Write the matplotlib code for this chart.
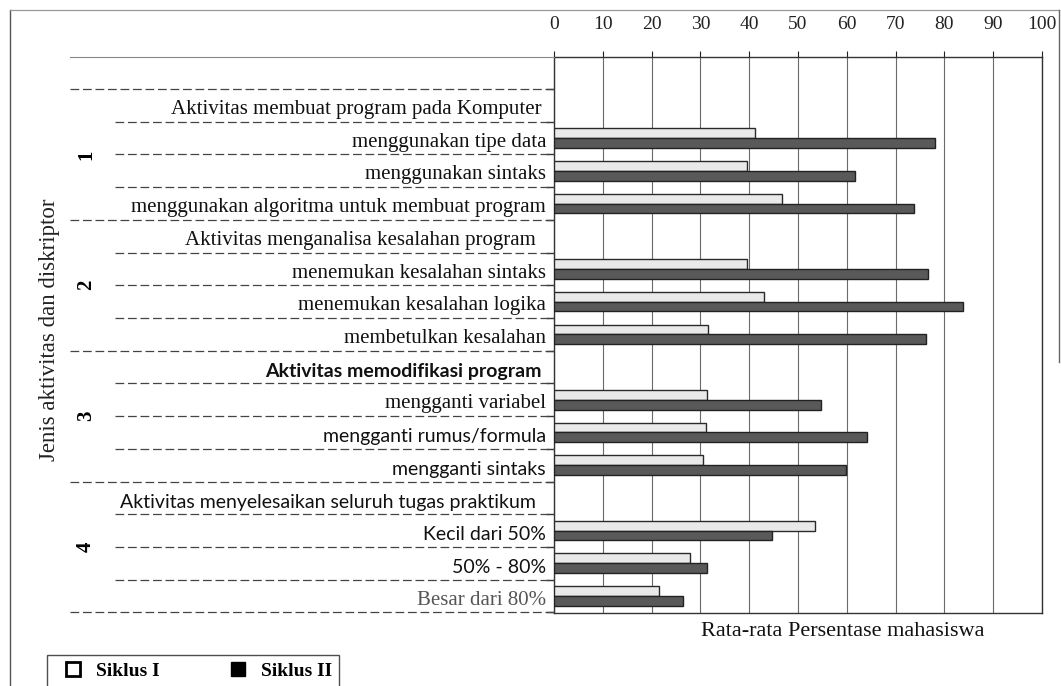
import matplotlib
matplotlib.use('Agg')
import matplotlib.pyplot as plt
import matplotlib.transforms as mtransforms
from matplotlib.lines import Line2D
import numpy as np

# group headers and their descriptors (top to bottom)
headers = [
    'Aktivitas membuat program pada Komputer',
    'Aktivitas menganalisa kesalahan program',
    'Aktivitas memodifikasi program',
    'Aktivitas menyelesaikan seluruh tugas praktikum',
]
descriptors = [
    ['menggunakan tipe data', 'menggunakan sintaks',
     'menggunakan algoritma untuk membuat program'],
    ['menemukan kesalahan sintaks', 'menemukan kesalahan logika',
     'membetulkan kesalahan'],
    ['mengganti variabel', 'mengganti rumus/formula', 'mengganti sintaks'],
    ['Kecil dari 50%', '50% - 80%', 'Besar dari 80%'],
]
group_names = ['1', '2', '3', '4']

siklus1 = [41.2, 39.5, 46.7, 39.5, 43.0, 31.6, 31.4, 31.1, 30.5, 53.5, 27.9, 21.5]
siklus2 = [78.1, 61.7, 73.8, 76.6, 83.8, 76.2, 54.7, 64.1, 59.8, 44.7, 31.4, 26.4]

xticks = list(range(0, 101, 10))

SERIF = 'Liberation Serif'
SANS = 'Lato'
sans_labels = ['mengganti rumus/formula', 'mengganti sintaks', 'Kecil dari 50%',
               '50% - 80%', headers[2], headers[3]]

W, H = 1061, 686
fig = plt.figure(figsize=(W / 100, H / 100), dpi=100)
ax = fig.add_axes([554 / W, 1 - 613 / H, (1042 - 554) / W, (613 - 57) / H])

# build rows
rows = []
for h, descs in zip(headers, descriptors):
    rows.append((h, True))
    for d in descs:
        rows.append((d, False))
item_rows = [i for i, (_, is_h) in enumerate(rows) if not is_h]

bh = 0.3
y1 = np.array(item_rows) - bh / 2
y2 = np.array(item_rows) + bh / 2
ax.barh(y1, siklus1, height=bh, color='#e9e9e9', edgecolor='#2a2a2a', linewidth=1.0, zorder=3)
ax.barh(y2, siklus2, height=bh, color='#595959', edgecolor='#222222', linewidth=1.0, zorder=3)

ax.set_xlim(0, 100)
ax.set_ylim(15.52, -1.48)
ax.xaxis.tick_top()
ax.set_xticks(xticks)
ax.set_xticklabels([str(t) for t in xticks], fontfamily=SERIF, fontsize=14)
ax.tick_params(axis='x', direction='out', length=4, width=0.8, pad=13, colors='#222')
ax.grid(axis='x', color='#6a6a6a', linewidth=0.8, zorder=0)
ax.set_yticks([])
ax.set_yticks(np.arange(-0.5, 16, 1.0), minor=True)
ax.tick_params(axis='y', which='minor', direction='out', length=6, width=1.0, colors='#333')
for s in ax.spines.values():
    s.set_color('#333333')
    s.set_linewidth(1.0)

# category labels
for i, (lab, is_h) in enumerate(rows):
    fam = SANS if lab in sans_labels else SERIF
    weight = 'bold' if lab == headers[2] else 'normal'
    color = '#555555' if lab == 'Besar dari 80%' else '#111111'
    pad = 12 if is_h else 8
    if lab == headers[1] or lab == headers[3]:
        pad = 18
    size = 14 if fam == SANS else 15
    ax.annotate(lab, xy=(0, i), xycoords=('axes fraction', 'data'),
                xytext=(-pad * 0.72, -3), textcoords='offset points',
                ha='right', va='center', fontfamily=fam, fontsize=size,
                fontweight=weight, color=color)

# separator lines in the label area
blend = mtransforms.blended_transform_factory(fig.transFigure, ax.transData)
ax_left = 554 / W
for b in np.arange(-0.5, 15.6, 1.0):
    group_edge = b in (-0.5, 3.5, 7.5, 11.5, 15.5)
    x0 = 70 / W if group_edge else 115 / W
    fig.add_artist(Line2D([x0, ax_left], [b, b], transform=blend,
                          color='#444444', linewidth=0.9, linestyle=(0, (7, 3))))
fig.add_artist(Line2D([70 / W, ax_left], [-1.48, -1.48], transform=blend,
                      color='#888888', linewidth=0.8))

# group numbers
for g, name in enumerate(group_names):
    yc = g * 4 + 1.5
    t = fig.text(86 / W, 0, name, transform=blend, rotation=90,
                 ha='center', va='center', fontfamily=SERIF, fontsize=15,
                 fontweight='bold')
    t.set_position((86 / W, yc))

fig.text(50 / W, 1 - 330 / H, 'Jenis aktivitas dan diskriptor', rotation=90,
         ha='center', va='center', fontfamily=SERIF, fontsize=16.5, color='#222')
fig.text(843 / W, 1 - 632 / H, 'Rata-rata Persentase mahasiswa',
         ha='center', va='center', fontfamily=SERIF, fontsize=16, color='#111')

# legend
handles = [
    Line2D([], [], marker='s', linestyle='none', markersize=10,
           markerfacecolor='white', markeredgecolor='black', markeredgewidth=2),
    Line2D([], [], marker='s', linestyle='none', markersize=10,
           markerfacecolor='black', markeredgecolor='black'),
]
leg = fig.legend(handles, ['Siklus I', 'Siklus II'], loc='lower left',
                 bbox_to_anchor=(37 / W, -0.015), ncol=2, frameon=True,
                 fancybox=False, edgecolor='#222222', handletextpad=0.2,
                 columnspacing=3.0, borderpad=0.35,
                 prop={'family': SERIF, 'size': 14, 'weight': 'bold'})
leg.get_frame().set_linewidth(1.0)

# outer border of the scanned figure
fig.add_artist(Line2D([10 / W, 10 / W], [0, 1 - 10 / H], transform=fig.transFigure,
                      color='#555555', linewidth=1.0))
fig.add_artist(Line2D([10 / W, 1059 / W], [1 - 10 / H, 1 - 10 / H],
                      transform=fig.transFigure, color='#999999', linewidth=0.9))
fig.add_artist(Line2D([1059 / W, 1059 / W], [1 - 10 / H, 1 - 362 / H],
                      transform=fig.transFigure, color='#666666', linewidth=1.0))

fig.savefig('out.png', dpi=100, facecolor='white')
